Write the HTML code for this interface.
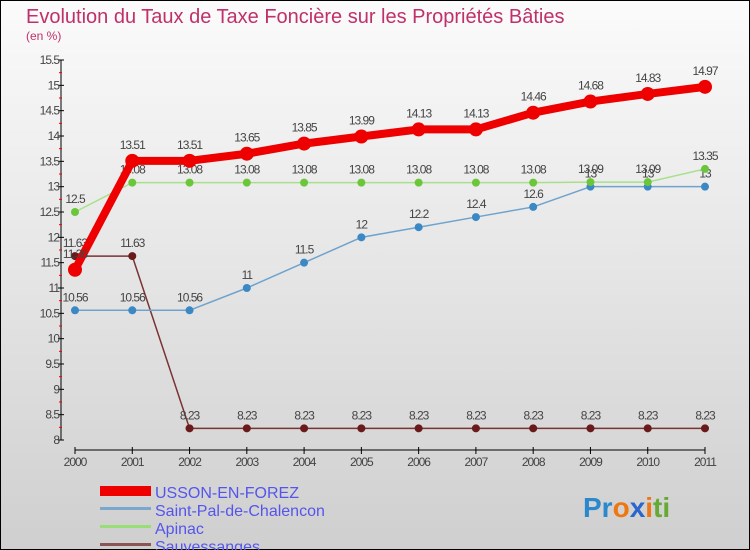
<!DOCTYPE html>
<html><head><meta charset="utf-8"><style>
body{margin:0;}
#wrap{width:750px;height:550px;position:relative;overflow:hidden;font-family:"Liberation Sans",sans-serif;}
</style></head><body>
<div id="wrap">
<svg id="chart" width="750" height="550" xmlns="http://www.w3.org/2000/svg">
<defs><linearGradient id="bg" x1="0" y1="0" x2="0" y2="1"><stop offset="0" stop-color="#fbfbfb"/><stop offset="1" stop-color="#cfcfcf"/></linearGradient></defs>
<rect x="0.5" y="0.5" width="749" height="549" fill="url(#bg)" stroke="#000"/>
<text x="26" y="23" font-size="20" fill="#c0306a">Evolution du Taux de Taxe Foncière sur les Propriétés Bâties</text>
<text x="26" y="40" font-size="12" fill="#c0306a">(en %)</text>
<g id="axes"></g><g id="series"></g>
<g>
<rect x="100" y="486" width="51" height="10" fill="#e00"/>
<text x="155" y="498" font-size="16" fill="#5555ee">USSON-EN-FOREZ</text>
<rect x="100" y="507" width="51" height="3" fill="#7aa8cc"/>
<text x="155" y="516" font-size="16" fill="#5555ee">Saint-Pal-de-Chalencon</text>
<rect x="100" y="525" width="51" height="3" fill="#99dd77"/>
<text x="155" y="534" font-size="16" fill="#5555ee">Apinac</text>
<rect x="100" y="543" width="51" height="3" fill="#8a5555"/>
<text x="155" y="552" font-size="16" fill="#5555ee">Sauvessanges</text>
</g>
<text x="583" y="517" font-size="28" font-weight="bold"><tspan fill="#2a88cc">Pr</tspan><tspan fill="#ee7711">o</tspan><tspan fill="#2a66cc">x</tspan><tspan fill="#ee7711">i</tspan><tspan fill="#66aa33">ti</tspan></text>
</svg></div>
<script>
const years=["2000","2001","2002","2003","2004","2005","2006","2007","2008","2009","2010","2011"];
const yTicks=[8,8.5,9,9.5,10,10.5,11,11.5,12,12.5,13,13.5,14,14.5,15,15.5];
const usson=[11.36,13.51,13.51,13.65,13.85,13.99,14.13,14.13,14.46,14.68,14.83,14.97];
const saintPal=[10.56,10.56,10.56,11,11.5,12,12.2,12.4,12.6,13,13,13];
const apinac=[12.5,13.08,13.08,13.08,13.08,13.08,13.08,13.08,13.08,13.09,13.09,13.35];
const sauvessanges=[11.63,11.63,8.23,8.23,8.23,8.23,8.23,8.23,8.23,8.23,8.23,8.23];
const NS="http://www.w3.org/2000/svg";
function xS(i){return 75+i*(630/11);}
function yS(v){return 440-(v-8)*(380/7.5);}
function mk(tag,attrs,parent){const e=document.createElementNS(NS,tag);for(const k in attrs)e.setAttribute(k,attrs[k]);parent.appendChild(e);return e;}
const ax=document.getElementById('axes');
let l=mk('line',{x1:61,y1:yS(15.5),x2:61,y2:440,stroke:'#000','stroke-width':1},ax);


yTicks.forEach(v=>{
  let t=mk('line',{x1:58,x2:64,y1:yS(v),y2:yS(v),stroke:'#000'},ax);
  
  
  if(v<15.5){let m=mk('line',{x1:59,x2:62,y1:yS(v+0.25),y2:yS(v+0.25),stroke:'#e00'},ax);
  
  }
  let tx=mk('text',{x:59,y:yS(v)+4,'font-size':12,'text-anchor':'end',fill:'#444','letter-spacing':'-1'},ax);
  tx.textContent=String(v);
  
  
});
l=mk('line',{x1:75,y1:450,x2:705,y2:450,stroke:'#000'},ax);


years.forEach((y,i)=>{
  let t=mk('line',{x1:xS(i),x2:xS(i),y1:447,y2:454,stroke:'#000'},ax);
  
  
  let tx=mk('text',{x:xS(i),y:466,'font-size':12,'text-anchor':'middle',fill:'#444','letter-spacing':'-1'},ax);
  tx.textContent=y;
  
  
});
const sg=document.getElementById('series');
function draw(data,name,color,dot,lw,r){
  const g=mk('g',{},sg);
  
  
  const p=mk('polyline',{points:data.map((v,i)=>xS(i)+','+yS(v)).join(' '),fill:'none',stroke:color,'stroke-width':lw,'stroke-linejoin':'round'},g);
  
  
  data.forEach((v,i)=>{
    const c=mk('circle',{cx:xS(i),cy:yS(v),r:r,fill:dot},g);
    
    
    const t=mk('text',{x:xS(i),y:yS(v)-r-5,'font-size':12,'text-anchor':'middle',fill:'#444','letter-spacing':'-1'},g);
    t.textContent=String(v);
    
    
  });
}
draw(sauvessanges,'sauvessanges','#7a3333','#6a1a1a',1.5,4);
draw(saintPal,'saint-pal','#6fa3cc','#3a88c4',1.5,4);
draw(apinac,'apinac','#a8e08a','#6cc63a',1.5,4);
draw(usson,'usson','#ee0000','#ee0000',8,7);
</script>
</body></html>
